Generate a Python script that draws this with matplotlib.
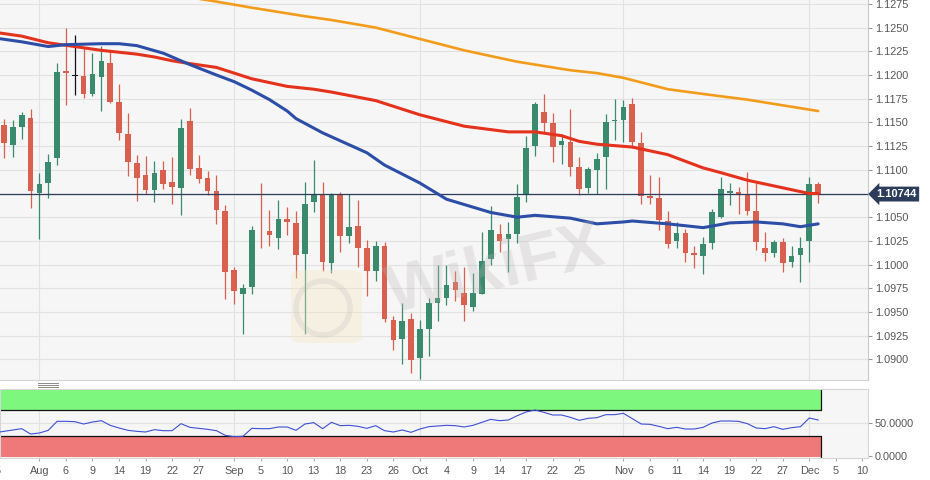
import matplotlib
matplotlib.use("Agg")
import matplotlib.pyplot as plt
from matplotlib.lines import Line2D
from matplotlib.patches import FancyBboxPatch, Ellipse
import numpy as np

plt.rcParams["font.family"] = ["Liberation Sans", "DejaVu Sans"]

# EUR/USD daily candles, 26 Jul - 3 Dec 2019 (one entry per trading day)
opens = [1.1147, 1.1126, 1.1145, 1.1155, 1.1076, 1.1086, 1.1112, 1.1204, 1.1199, 1.1199,
         1.1180, 1.1198, 1.1213, 1.1171, 1.1138, 1.1107, 1.1094, 1.1079, 1.1100, 1.1087,
         1.1081, 1.1152, 1.1102, 1.1091, 1.1078, 1.1057, 1.0994, 1.0969, 1.0976, 1.1037,
         1.1035, 1.1028, 1.1048, 1.1044, 1.1011, 1.1066, 1.1073, 1.1002, 1.1073, 1.1030,
         1.1041, 1.1017, 1.0993, 1.1020, 1.0942, 1.0922, 1.0943, 1.0901, 1.0932, 1.0959,
         1.0965, 1.0982, 1.0970, 1.0955, 1.0969, 1.1006, 1.1032, 1.1027, 1.1032, 1.1073,
         1.1125, 1.1161, 1.1149, 1.1126, 1.1129, 1.1103, 1.1081, 1.1100, 1.1113, 1.1151,
         1.1153, 1.1169, 1.1128, 1.1072, 1.1070, 1.1046, 1.1025, 1.1033, 1.1012, 1.1009,
         1.1023, 1.1050, 1.1076, 1.1077, 1.1073, 1.1057, 1.1017, 1.1012, 1.1024, 1.1003,
         1.1010, 1.1025, 1.1085]
highs = [1.1154, 1.1153, 1.1161, 1.1164, 1.1097, 1.1117, 1.1213, 1.1250, 1.1242, 1.1230,
         1.1223, 1.1231, 1.1225, 1.1191, 1.1160, 1.1116, 1.1115, 1.1109, 1.1109, 1.1114,
         1.1154, 1.1165, 1.1116, 1.1099, 1.1094, 1.1063, 1.0998, 1.0980, 1.1041, 1.1086,
         1.1058, 1.1068, 1.1061, 1.1057, 1.1087, 1.1110, 1.1087, 1.1076, 1.1077, 1.1074,
         1.1068, 1.1026, 1.1025, 1.1024, 1.0946, 1.0960, 1.0949, 1.0942, 1.0965, 1.1000,
         1.1000, 1.0993, 1.0997, 1.0991, 1.1034, 1.1062, 1.1043, 1.1045, 1.1085, 1.1136,
         1.1171, 1.1180, 1.1160, 1.1138, 1.1164, 1.1113, 1.1103, 1.1118, 1.1159, 1.1175,
         1.1174, 1.1176, 1.1140, 1.1094, 1.1092, 1.1057, 1.1045, 1.1038, 1.1020, 1.1029,
         1.1059, 1.1092, 1.1086, 1.1082, 1.1098, 1.1086, 1.1034, 1.1026, 1.1028, 1.1020,
         1.1029, 1.1092, 1.1087]
lows = [1.1112, 1.1113, 1.1132, 1.1060, 1.1027, 1.1070, 1.1105, 1.1168, 1.1179, 1.1176,
        1.1178, 1.1162, 1.1170, 1.1131, 1.1093, 1.1067, 1.1075, 1.1066, 1.1080, 1.1064,
        1.1052, 1.1094, 1.1086, 1.1073, 1.1043, 1.0964, 1.0958, 1.0927, 1.0969, 1.1017,
        1.1020, 1.1016, 1.1031, 1.0986, 1.0927, 1.1055, 1.0993, 1.0991, 1.1013, 1.1023,
        1.0997, 1.0967, 1.0983, 1.0939, 1.0910, 1.0895, 1.0886, 1.0879, 1.0904, 1.0941,
        1.0957, 1.0962, 1.0941, 1.0951, 1.0969, 1.1000, 1.1013, 1.0992, 1.1023, 1.1066,
        1.1115, 1.1140, 1.1108, 1.1106, 1.1093, 1.1073, 1.1076, 1.1074, 1.1080, 1.1131,
        1.1129, 1.1123, 1.1064, 1.1064, 1.1036, 1.1017, 1.1017, 1.1003, 1.0996, 1.0990,
        1.1016, 1.1049, 1.1063, 1.1053, 1.1052, 1.1015, 1.1004, 1.1008, 1.0992, 1.0998,
        1.0982, 1.1003, 1.1065]
closes = [1.1128, 1.1145, 1.1158, 1.1078, 1.1085, 1.1108, 1.1203, 1.1202, 1.1199, 1.1180,
          1.1201, 1.1215, 1.1172, 1.1139, 1.1108, 1.1091, 1.1079, 1.1097, 1.1085, 1.1082,
          1.1144, 1.1101, 1.1090, 1.1078, 1.1058, 1.0992, 1.0972, 1.0975, 1.1037, 1.1036,
          1.1031, 1.1048, 1.1045, 1.1010, 1.1064, 1.1073, 1.1003, 1.1073, 1.1030, 1.1040,
          1.1018, 1.0993, 1.1020, 1.0943, 1.0920, 1.0941, 1.0899, 1.0932, 1.0959, 1.0965,
          1.0979, 1.0973, 1.0957, 1.0970, 1.1004, 1.1037, 1.1025, 1.1032, 1.1071, 1.1123,
          1.1169, 1.1149, 1.1124, 1.1130, 1.1103, 1.1080, 1.1101, 1.1111, 1.1150, 1.1153,
          1.1166, 1.1129, 1.1072, 1.1070, 1.1047, 1.1022, 1.1033, 1.1012, 1.1010, 1.1022,
          1.1055, 1.1080, 1.1078, 1.1074, 1.1057, 1.1024, 1.1012, 1.1024, 1.1002, 1.1009,
          1.1017, 1.1085, 1.10744]

# moving averages at a few candle positions
sma200_idx = [20, 23, 28, 34, 37, 42, 47, 52, 58, 64, 67, 70, 75, 79, 84, 88, 92]
sma200 = [1.1283, 1.1279, 1.1271, 1.1262, 1.1258, 1.1250, 1.1238, 1.1226, 1.1214, 1.1205,
          1.1202, 1.1197, 1.1185, 1.1180, 1.1174, 1.1168, 1.1162]
sma100_idx = [-1, 2, 5, 11, 15, 17, 19, 21, 24, 26, 28, 32, 35, 37, 42, 47, 52, 57, 60,
              63, 65, 67, 71, 75, 79, 81, 84, 88, 91, 92]
sma100 = [1.1245, 1.1241, 1.1234, 1.1226, 1.1222, 1.1219, 1.1215, 1.1212, 1.1208, 1.1202,
          1.1196, 1.1188, 1.1185, 1.1182, 1.1173, 1.1158, 1.1146, 1.1140, 1.1140, 1.1136,
          1.1130, 1.1127, 1.1124, 1.1116, 1.1102, 1.1097, 1.1089, 1.1081, 1.1075, 1.1075]
sma50_idx = [-1, 2, 5, 7, 11, 13, 15, 18, 21, 24, 26, 28, 30, 32, 33, 35, 36, 41, 43, 47,
             50, 55, 58, 60, 64, 67, 70, 71, 75, 79, 82, 85, 88, 90, 92]
sma50 = [1.1239, 1.1235, 1.1230, 1.1232, 1.1233, 1.1233, 1.1231, 1.1223, 1.1211, 1.1200,
         1.1193, 1.1184, 1.1174, 1.1162, 1.1154, 1.1144, 1.1139, 1.1118, 1.1105, 1.1086,
         1.1069, 1.1055, 1.1050, 1.1052, 1.1049, 1.1043, 1.1045, 1.1046, 1.1043, 1.1039,
         1.1044, 1.1045, 1.1043, 1.1040, 1.1043]

# RSI, one value per candle starting one day before the first candle
rsi = [35.5, 37.5, 39.5, 41.5, 33.5, 35, 39, 52.5, 52.5, 52, 48.5, 51.5, 53.5, 46.5, 42.5,
       39, 37.5, 36.5, 40, 38.5, 38.5, 49, 43.5, 42, 40.5, 38.5, 31.5, 29.5, 30, 42, 41.5,
       41.5, 44, 44, 39, 48.5, 50.5, 41.5, 51, 46, 46.5, 45, 42, 46, 38.5, 36.5, 39.5, 36,
       41, 44.5, 45.5, 46.5, 46, 44, 46.5, 51, 55.5, 53.5, 54.5, 61, 66.5, 69.5, 66, 62, 62,
       58.5, 54, 57, 58, 62.5, 62.5, 64.5, 56.5, 48.5, 48, 45, 41.5, 43.5, 41, 41, 43.5, 50,
       53, 53, 52.5, 49, 42.5, 41.5, 44.5, 40.5, 43, 44.5, 57.5, 54.5]
rsi_idx = list(range(-1, len(rsi) - 1))

tick_idx = [-1, 4, 7, 10, 13, 16, 19, 22, 26, 29, 32, 35, 38, 41, 44, 47, 50, 53, 56, 59,
            62, 65, 70, 73, 76, 79, 82, 85, 88, 91, 94, 97]
tick_lbl = ["25", "Aug", "6", "9", "14", "19", "22", "27", "Sep", "5", "10", "13", "18",
            "23", "26", "Oct", "4", "9", "14", "17", "22", "25", "Nov", "6", "11", "14",
            "19", "22", "27", "Dec", "5", "10"]
month_idx = [4, 26, 47, 70, 91]
price_ticks = [1.0900, 1.0925, 1.0950, 1.0975, 1.1000, 1.1025, 1.1050, 1.1075, 1.1100,
               1.1125, 1.1150, 1.1175, 1.1200, 1.1225, 1.1250, 1.1275]

UP, DOWN, FLAT = "#3a8a6d", "#d9604e", "#111111"
NAVY = "#2b3d5b"
BG = "#f6f6f6"
GRID = "#e2e2e2"
XLIM = (-0.452, 97.63)

fig = plt.figure(figsize=(9.3, 4.8), dpi=100)
ax = fig.add_axes([0, 100 / 480, 868 / 930, 380 / 480])
rx = fig.add_axes([0, 22 / 480, 868 / 930, 69 / 480])

# ---- price panel -------------------------------------------------------
ax.set_facecolor(BG)
ax.set_xlim(*XLIM)
ax.set_ylim(1.08783, 1.12791)
ax.set_axisbelow(True)
ax.grid(axis="y", color=GRID, lw=0.8)
for m in month_idx:
    ax.axvline(m, color=GRID, lw=0.8, zorder=0.5)

x = np.arange(len(opens))
o, h, l, c = map(np.array, (opens, highs, lows, closes))
cols = [UP if cc > oo else DOWN if cc < oo else FLAT for oo, cc in zip(o, c)]
ax.vlines(x, l, h, colors=cols, lw=0.9, zorder=2)
body_lo = np.minimum(o, c)
body_h = np.maximum(np.abs(c - o), 0.00008)
ax.bar(x, body_h, width=0.64, bottom=body_lo, color=cols, lw=0, zorder=2.1)

ax.plot(sma200_idx, sma200, color="#f39c1b", lw=1.9, zorder=3, solid_capstyle="round")
ax.plot(sma100_idx, sma100, color="#e5321c", lw=2.2, zorder=3.1, solid_capstyle="round")
ax.plot(sma50_idx, sma50, color="#2c4ea7", lw=2.2, zorder=3.2, solid_capstyle="round")

last = closes[-1]
ax.axhline(last, color=NAVY, lw=0.9, zorder=2.5)
ax.annotate(f"{last:.5f}", xy=(1, last), xycoords=ax.get_yaxis_transform(),
            xytext=(6, 0), textcoords="offset points", ha="left", va="center",
            color="white", fontweight="bold", fontsize=8,
            bbox=dict(boxstyle="larrow,pad=0.22", fc=NAVY, ec="none"),
            annotation_clip=False, zorder=6)

# watermark (sits over the candles, very faint)
ax.text(0.572, 0.285, "WikiFX", transform=ax.transAxes, fontsize=48, fontweight="bold",
        color="#b9b4b4", alpha=0.28, rotation=13, ha="center", va="center", zorder=4)
ax.add_patch(FancyBboxPatch((291 / 868, 1 - 343 / 380), 71 / 868, 73 / 380,
                            boxstyle="round,pad=0,rounding_size=0.015",
                            transform=ax.transAxes, fc="#f5e6bd", ec="none",
                            alpha=0.35, zorder=4))
ax.add_patch(Ellipse((323 / 868, 1 - 308 / 380), 54 / 868, 54 / 380,
                     transform=ax.transAxes, fc="none", ec="#b5b0b0", lw=4,
                     alpha=0.2, zorder=4))

ax.yaxis.tick_right()
ax.set_yticks(price_ticks)
# the value under the last-price tag is hidden by the tag
ax.set_yticklabels(["" if abs(v - last) < 0.0012 else f"{v:.4f}" for v in price_ticks])
ax.tick_params(axis="y", length=3, color="#999999", labelsize=7.8,
               labelcolor="#555555", pad=2)
ax.set_xticks([])
for s in ("left", "top"):
    ax.spines[s].set_visible(False)
ax.spines["right"].set_color("#c9c9c9")
ax.spines["bottom"].set_color("#d4d4d4")

# ---- RSI panel ---------------------------------------------------------
rx.set_facecolor(BG)
rx.set_xlim(*XLIM)
rx.set_ylim(-2.5, 101)
band_end = len(closes) - 1 + 0.35
rx.fill_between([XLIM[0] - 1, band_end], 70, 100, color="#7df77d", lw=0, zorder=1)
rx.fill_between([XLIM[0] - 1, band_end], -1.2, 30, color="#ef7878", lw=0, zorder=1)
rx.plot([XLIM[0] - 1, band_end, band_end], [70, 70, 100], color="#111111", lw=0.9, zorder=2)
rx.plot([XLIM[0] - 1, band_end, band_end], [30, 30, -1.2], color="#111111", lw=0.9, zorder=2)
rx.axhline(50, color=GRID, lw=0.8, zorder=0.5)
for m in month_idx:
    rx.axvline(m, color=GRID, lw=0.8, zorder=0.5)
rx.plot(rsi_idx, rsi, color="#3c50d6", lw=0.8, zorder=3)

rx.yaxis.tick_right()
rx.set_yticks([0, 50])
rx.set_yticklabels(["0.0000", "50.0000"])
rx.tick_params(axis="y", length=3, color="#999999", labelsize=7.8,
               labelcolor="#555555", pad=2)
vis = [(i, t) for i, t in zip(tick_idx, tick_lbl) if XLIM[0] <= i <= XLIM[1]]
rx.set_xticks([i for i, _ in vis])
rx.set_xticklabels([t for _, t in vis])
rx.tick_params(axis="x", length=2.5, color="#aaaaaa", labelsize=7.8,
               labelcolor="#555555", pad=3)
for i, t in zip(tick_idx, tick_lbl):
    if i < XLIM[0]:
        rx.text(i, -0.12, t, transform=rx.get_xaxis_transform(), ha="center", va="top",
                fontsize=7.8, color="#555555", clip_on=False)
for s in rx.spines.values():
    s.set_color("#d6d6d6")

# panel drag handle
for yy in (382.7, 384.7, 386.7):
    fig.add_artist(Line2D([38 / 930, 58 / 930], [1 - yy / 480] * 2, color="#8a8a8a", lw=0.7))

fig.savefig("out.png", dpi=100, facecolor="white")
